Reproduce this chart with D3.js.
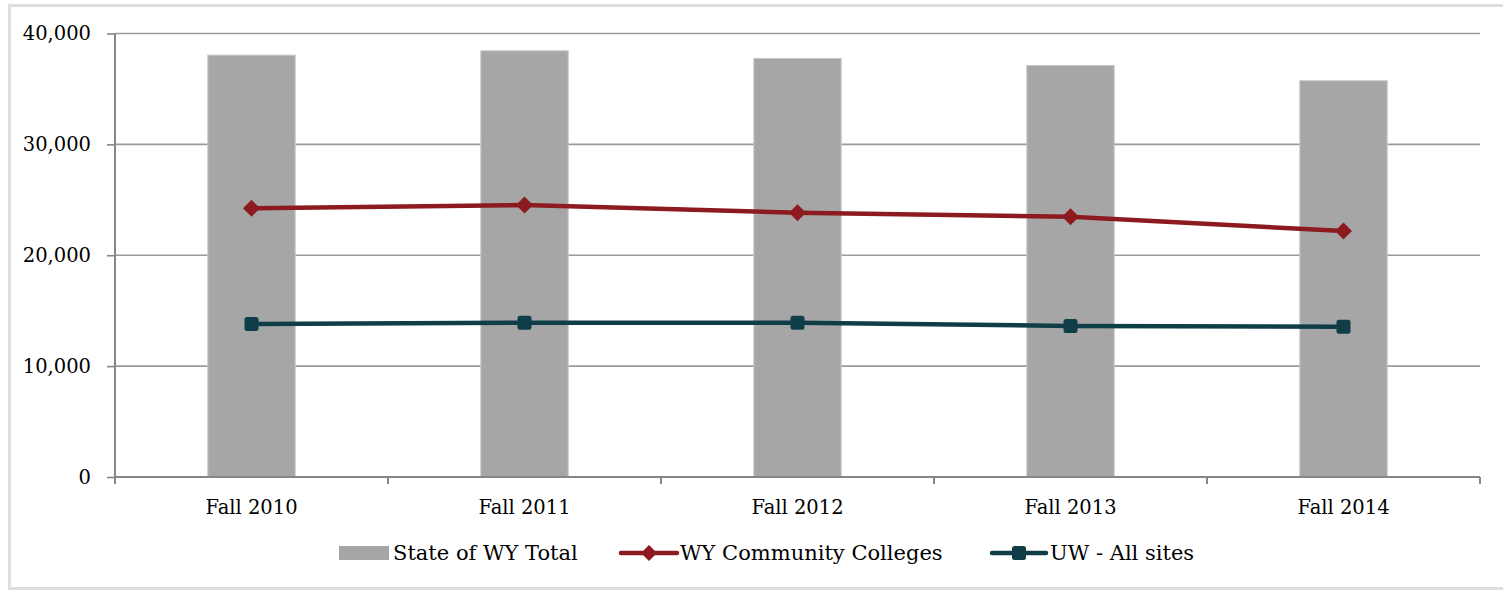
<!DOCTYPE html>
<html><head><meta charset="utf-8">
<script src="https://cdn.jsdelivr.net/npm/d3@7"></script>
<style>
html,body{margin:0;padding:0;background:#fff;}
svg{display:block;}
text{font-family:"DejaVu Serif",serif;fill:#000;}
</style></head>
<body>
<svg id="chart" width="1503" height="591"></svg>
<script>
const categories = ["Fall 2010","Fall 2011","Fall 2012","Fall 2013","Fall 2014"];
const stateTotal = [38050, 38440, 37750, 37120, 35740];
const communityColleges = [24230, 24530, 23830, 23470, 22180];
const uwAllSites = [13800, 13910, 13910, 13620, 13550];
const yTicks = [0, 10000, 20000, 30000, 40000];
const seriesNames = ["State of WY Total", "WY Community Colleges", "UW - All sites"];

const svg = d3.select("#chart");
const plotL = 115, plotR = 1480, plotT = 33.5, plotB = 477;

// outer frame
svg.append("rect").attr("x", 9.5).attr("y", 5.5).attr("width", 1520).attr("height", 583)
  .attr("fill", "none").attr("stroke", "#dedede").attr("stroke-width", 3);

const x = d3.scaleBand().domain(categories).range([plotL, plotR]).paddingInner(0.68).paddingOuter(0.34);
const y = d3.scaleLinear().domain([0, 40000]).range([plotB, plotT]);

// gridlines
svg.append("g").selectAll("line").data(yTicks.filter(d => d > 0)).join("line")
  .attr("x1", plotL).attr("x2", plotR)
  .attr("y1", d => y(d)).attr("y2", d => y(d))
  .attr("stroke", "#9a9a9a").attr("stroke-width", 1.6);

// bars
svg.append("g").selectAll("rect").data(categories).join("rect")
  .attr("x", d => x(d)).attr("width", x.bandwidth())
  .attr("y", (d, i) => y(stateTotal[i]))
  .attr("height", (d, i) => plotB - y(stateTotal[i]))
  .attr("fill", "#a6a6a6").attr("stroke", "#c8c8c8").attr("stroke-width", 1);

// y axis
const yAxis = d3.axisLeft(y).tickValues(yTicks).tickFormat(d3.format(",")).tickSize(8).tickPadding(16);
const gy = svg.append("g").attr("transform", `translate(${plotL},0)`).call(yAxis);
gy.select(".domain").remove();
gy.selectAll(".tick line").attr("stroke", "#868686").attr("stroke-width", 1.6);
gy.selectAll(".tick text").attr("font-size", 19.5).attr("font-family", "DejaVu Serif").attr("fill", "#000");
svg.append("line").attr("x1", plotL).attr("x2", plotL).attr("y1", plotT).attr("y2", plotB + 7)
  .attr("stroke", "#868686").attr("stroke-width", 2);

// x axis: baseline + ticks at band boundaries
const step = x.step();
const boundaries = d3.range(categories.length + 1).map(i => plotL + i * step);
svg.append("line").attr("x1", plotL).attr("x2", plotR).attr("y1", plotB).attr("y2", plotB)
  .attr("stroke", "#868686").attr("stroke-width", 2);
svg.append("g").selectAll("line").data(boundaries).join("line")
  .attr("x1", d => d).attr("x2", d => d).attr("y1", plotB).attr("y2", plotB + 7)
  .attr("stroke", "#868686").attr("stroke-width", 2);
svg.append("g").selectAll("text").data(categories).join("text")
  .attr("x", d => x(d) + x.bandwidth() / 2).attr("y", 514)
  .attr("text-anchor", "middle").attr("font-size", 19.5).text(d => d);

const cx = d => x(d) + x.bandwidth() / 2;
const redC = "#8c1a1f", tealC = "#0f3e48";

// lines
const lineGen = vals => d3.line().x((d, i) => cx(categories[i])).y(d => y(d))(vals);
svg.append("path").attr("d", lineGen(communityColleges)).attr("fill", "none")
  .attr("stroke", redC).attr("stroke-width", 4.5).attr("stroke-linejoin", "round");
svg.append("path").attr("d", lineGen(uwAllSites)).attr("fill", "none")
  .attr("stroke", tealC).attr("stroke-width", 4.5).attr("stroke-linejoin", "round");

// markers
const diamond = (px, py, r) => `M${px},${py - r}L${px + r},${py}L${px},${py + r}L${px - r},${py}Z`;
svg.append("g").selectAll("path").data(communityColleges).join("path")
  .attr("d", (d, i) => diamond(cx(categories[i]), y(d), 8.5)).attr("fill", redC);
svg.append("g").selectAll("rect").data(uwAllSites).join("rect")
  .attr("x", (d, i) => cx(categories[i]) - 7).attr("y", d => y(d) - 7)
  .attr("width", 14).attr("height", 14).attr("rx", 2.5).attr("fill", tealC);

// legend
const lg = svg.append("g");
const ly = 553;
lg.append("rect").attr("x", 339).attr("y", ly - 7).attr("width", 50).attr("height", 14).attr("fill", "#a6a6a6");
lg.append("text").attr("x", 393).attr("y", ly + 7).attr("font-size", 21).text(seriesNames[0]);
lg.append("line").attr("x1", 621).attr("x2", 677).attr("y1", ly).attr("y2", ly).attr("stroke", redC).attr("stroke-width", 4.5).attr("stroke-linecap", "round");
lg.append("path").attr("d", diamond(649, ly, 8)).attr("fill", redC);
lg.append("text").attr("x", 680).attr("y", ly + 7).attr("font-size", 21).text(seriesNames[1]);
lg.append("line").attr("x1", 992).attr("x2", 1046).attr("y1", ly).attr("y2", ly).attr("stroke", tealC).attr("stroke-width", 4.5).attr("stroke-linecap", "round");
lg.append("rect").attr("x", 1012).attr("y", ly - 7).attr("width", 14).attr("height", 14).attr("rx", 2.5).attr("fill", tealC);
lg.append("text").attr("x", 1050).attr("y", ly + 7).attr("font-size", 21).text(seriesNames[2]);
</script>
</body></html>
